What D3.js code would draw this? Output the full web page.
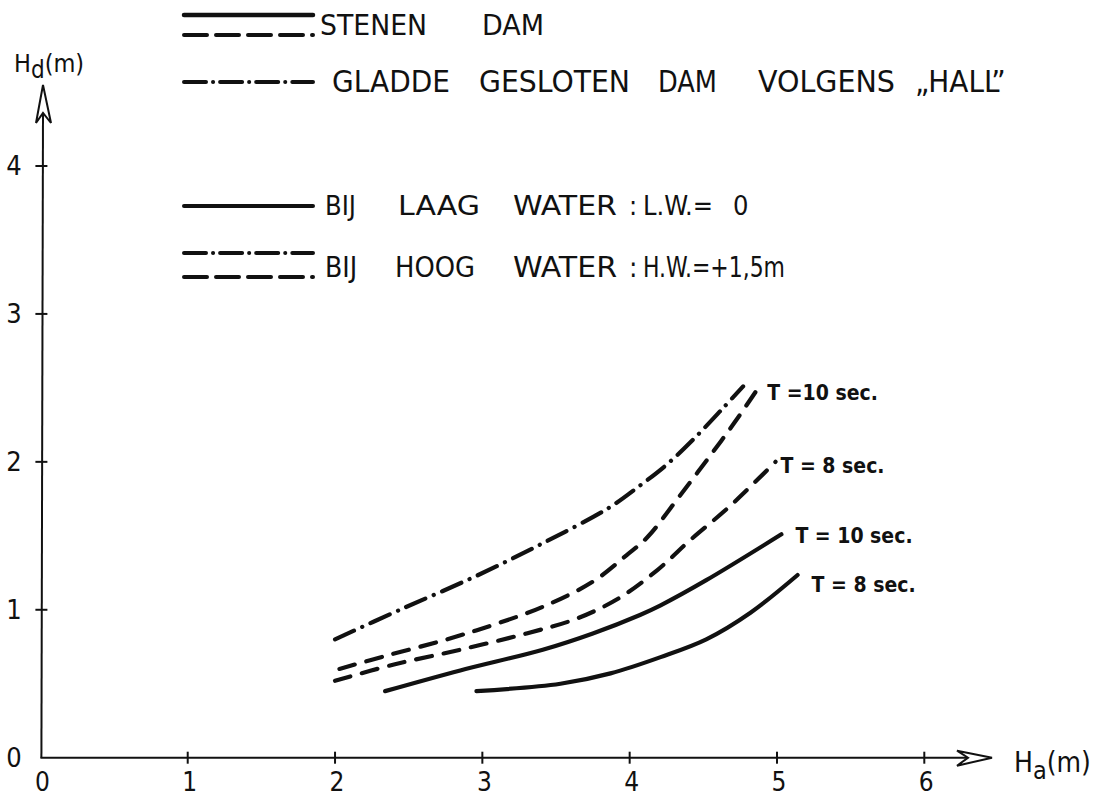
<!DOCTYPE html>
<html>
<head>
<meta charset="utf-8">
<script src="https://cdn.jsdelivr.net/npm/d3@7/dist/d3.min.js"></script>
<style>
  html, body { margin: 0; padding: 0; background: #fff; }
  svg { display: block; }
  text { fill: #111; font-family: 'Liberation Sans Narrow', 'DejaVu Sans Condensed', 'Liberation Sans', sans-serif; }
</style>
</head>
<body>
<script>
// Wave height behind a breakwater (Hd) against incoming wave height (Ha)
const xTicks = [0, 1, 2, 3, 4, 5, 6];
const yTicks = [0, 1, 2, 3, 4];

// Smooth closed dam after Hall
const hallHa = [2.00, 2.44, 2.94, 3.41, 3.86, 4.07, 4.25, 4.44, 4.64, 4.77];
const hallHd = [0.80, 1.00, 1.22, 1.45, 1.69, 1.84, 1.98, 2.16, 2.37, 2.51];

// Rubble dam, high water, T = 10 s
const hwT10Ha = [2.03, 2.35, 2.76, 3.08, 3.41, 3.75, 3.98, 4.12, 4.34, 4.62, 4.75, 4.88];
const hwT10Hd = [0.60, 0.69, 0.80, 0.90, 1.02, 1.19, 1.37, 1.49, 1.77, 2.14, 2.32, 2.51];

// Rubble dam, high water, T = 8 s
const hwT8Ha = [2.00, 2.40, 2.85, 3.30, 3.64, 3.93, 4.19, 4.41, 4.68, 4.99];
const hwT8Hd = [0.52, 0.63, 0.73, 0.84, 0.94, 1.08, 1.27, 1.47, 1.70, 2.00];

// Rubble dam, low water, T = 10 s
const lwT10Ha = [2.34, 2.85, 3.41, 3.75, 4.07, 4.21, 4.52, 5.03];
const lwT10Hd = [0.45, 0.59, 0.73, 0.84, 0.965, 1.03, 1.20, 1.51];

// Rubble dam, low water, T = 8 s
const lwT8Ha = [2.96, 3.53, 3.87, 4.21, 4.52, 4.82, 5.14];
const lwT8Hd = [0.45, 0.50, 0.57, 0.68, 0.80, 0.98, 1.235];

const curveLabels = ["T =10 sec.", "T = 8 sec.", "T = 10 sec.", "T = 8 sec."];

const W = 1104, H = 798;
const svg = d3.select("body").append("svg").attr("width", W).attr("height", H);

const x = d3.scaleLinear().domain([0, 6]).range([40.4, 924.3]);
const y = d3.scaleLinear().domain([0, 4]).range([757.7, 166]);

const ink = "#111";
const x0 = x(0), y0 = y(0);

// ---- axes ----
const axes = svg.append("g").attr("stroke", ink).attr("stroke-width", 2).attr("fill", "none");
// x axis with open arrowhead
axes.append("line").attr("x1", x0).attr("y1", y0).attr("x2", 968).attr("y2", y0);
axes.append("path")
  .attr("d", `M992,${y0} L957,${y0 - 7} L968,${y0} L957,${y0 + 8} Z`)
  .attr("fill", "#fff").attr("stroke-linejoin", "miter");
// y axis with open arrowhead
axes.append("line").attr("x1", x0 + 1).attr("y1", y0).attr("x2", 43).attr("y2", 113);
axes.append("path")
  .attr("d", `M43,85 L36,123 L43,113 L51,123 Z`)
  .attr("fill", "#fff").attr("stroke-linejoin", "miter");

// cross ticks
axes.selectAll(".xt").data(xTicks.filter(d => d > 0)).enter().append("line")
  .attr("x1", d => x(d)).attr("x2", d => x(d))
  .attr("y1", y0 - 6).attr("y2", y0 + 6);
axes.selectAll(".yt").data(yTicks.filter(d => d > 0)).enter().append("line")
  .attr("x1", x0 - 5).attr("x2", x0 + 7)
  .attr("y1", d => y(d)).attr("y2", d => y(d));

// tick labels
svg.selectAll(".xl").data(xTicks).enter().append("text")
  .attr("x", d => x(d) + 2).attr("y", 791)
  .attr("text-anchor", "middle").attr("font-size", 26)
  .text(d => d);
svg.selectAll(".yl").data(yTicks).enter().append("text")
  .attr("x", 14).attr("y", d => y(d) + 9)
  .attr("text-anchor", "middle").attr("font-size", 27)
  .text(d => d);

// axis titles
const yt = svg.append("text").attr("x", 14).attr("y", 72).attr("font-size", 25);
yt.append("tspan").text("H");
yt.append("tspan").attr("dy", 6).attr("font-size", 24).text("d");
yt.append("tspan").attr("dy", -6).text("(m)");

const xt = svg.append("text").attr("x", 1014).attr("y", 772).attr("font-size", 28);
xt.append("tspan").text("H");
xt.append("tspan").attr("dy", 7).attr("font-size", 25).text("a");
xt.append("tspan").attr("dy", -7).text("(m)");

// ---- curves ----
const styles = {
  solid: null,
  dashed: "16,12",
  dashdot: "21,9,0.1,9"
};
const series = [
  { ha: hallHa, hd: hallHd, style: "dashdot" },
  { ha: hwT10Ha, hd: hwT10Hd, style: "dashed", label: 0, dx: 8, dy: 14 },
  { ha: hwT8Ha, hd: hwT8Hd, style: "dashed", label: 1, dx: 5, dy: 11 },
  { ha: lwT10Ha, hd: lwT10Hd, style: "solid", label: 2, dx: 14, dy: 9 },
  { ha: lwT8Ha, hd: lwT8Hd, style: "solid", label: 3, dx: 14, dy: 17 }
];

const line = d3.line().x(d => x(d[0])).y(d => y(d[1])).curve(d3.curveCatmullRom.alpha(0.5));

series.forEach(s => {
  const pts = s.ha.map((v, i) => [v, s.hd[i]]);
  svg.append("path")
    .attr("d", line(pts))
    .attr("fill", "none").attr("stroke", ink)
    .attr("stroke-width", 4.2)
    .attr("stroke-linecap", "round")
    .attr("stroke-dasharray", styles[s.style]);
  if (s.label !== undefined) {
    const last = pts[pts.length - 1];
    svg.append("text")
      .attr("x", x(last[0]) + s.dx).attr("y", y(last[1]) + s.dy)
      .attr("font-size", 21).attr("font-weight", "bold")
      .text(curveLabels[s.label]);
  }
});

// ---- legend ----
const lx1 = 184, lx2 = 313;
const leg = svg.append("g").attr("stroke", ink).attr("fill", "none").attr("stroke-linecap", "round");
function legLine(yy, style, w) {
  leg.append("line").attr("x1", lx1).attr("x2", lx2).attr("y1", yy).attr("y2", yy)
    .attr("stroke-width", w || 4)
    .attr("stroke-dasharray", style === "dashed" ? "23,9" : style === "dashdot" ? "22,7,0.1,7" : null);
}
legLine(15, "solid", 4.5);
legLine(35, "dashed");
legLine(82, "dashdot");
legLine(206, "solid");
legLine(253, "dashdot");
legLine(277, "dashed");

// legend words: [text, left, right]; right = null keeps the natural width
const legendRows = [
  { base: 35, size: 29, words: [["STENEN", 320, 427], ["DAM", 482, 544]] },
  { base: 92, size: 31, words: [["GLADDE", 332, 450], ["GESLOTEN", 479, 630], ["DAM", 658, 717], ["VOLGENS", 758, 895], ["\u201EHALL\u201D", 915, null]] },
  { base: 215, size: 27, words: [["BIJ", 325, null], ["LAAG", 398, 480], ["WATER", 513, 617], [":", 629, 635], ["L.W.=", 643, 713], ["0", 733, 745]] },
  { base: 277, size: 28, words: [["BIJ", 325, null], ["HOOG", 395, 475], ["WATER", 513, 617], [":", 629, 635], ["H.W.=+1,5m", 643, 785]] }
];
legendRows.forEach(r => {
  r.words.forEach(w => {
    const t = svg.append("text").attr("x", w[1]).attr("y", r.base)
      .attr("font-size", r.size).text(w[0]);
    if (w[0].length > 1 && w[2] !== null) t.attr("textLength", w[2] - w[1]).attr("lengthAdjust", "spacingAndGlyphs");
  });
});
</script>
</body>
</html>
